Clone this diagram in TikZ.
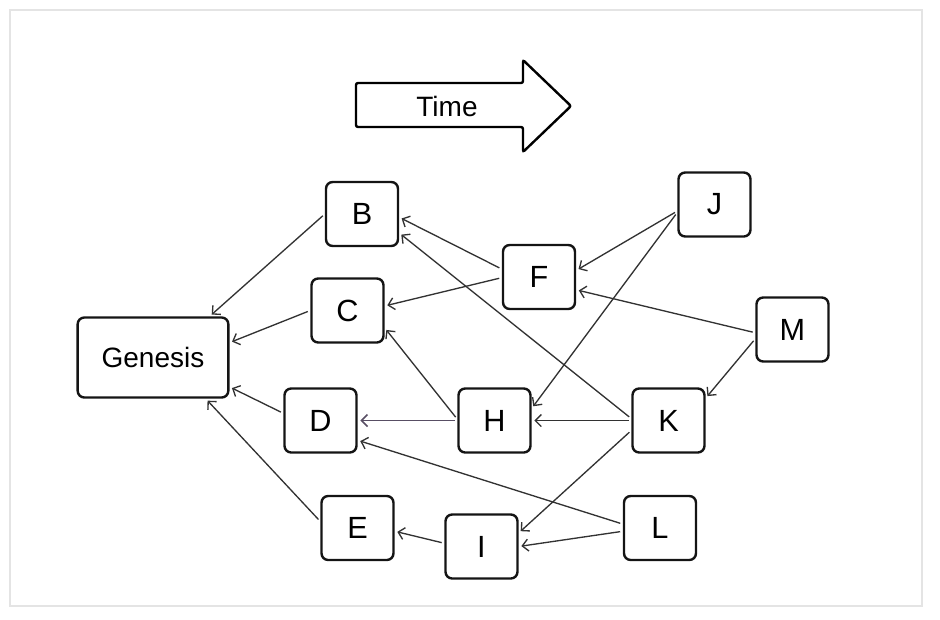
\documentclass[tikz,border=0pt]{standalone}
\usepackage{fontspec}
\setmainfont{Liberation Sans}
\usetikzlibrary{arrows.meta}
\definecolor{edgecol}{RGB}{50,50,50}
\definecolor{purpedge}{RGB}{88,78,100}
\definecolor{framecol}{RGB}{228,228,228}
\begin{document}
\begin{tikzpicture}[x=0.75pt,y=-0.75pt,
  box/.style={draw=black!92,line width=1.8pt,rounded corners=5pt,fill=white,
    minimum width=54pt,minimum height=48pt,inner sep=0pt,font=\fontsize{23}{26}\selectfont},
  gbox/.style={box,minimum width=113pt,minimum height=60pt,font=\fontsize{21}{24}\selectfont},
  link/.style={draw=edgecol,line width=1pt,-{Straight Barb[length=4.5pt,width=9pt]},
    shorten >=2pt,shorten <=2pt}]
\useasboundingbox (0,0) rectangle (940,619);
\draw[framecol,line width=0.8pt] (10,10) rectangle (922,606);
% time arrow
\draw[line width=1.8pt,rounded corners=1.5pt,fill=white]
  (356,83) -- (523,83) -- (523,60) -- (571,106) -- (523,152) -- (523,127) -- (356,127) -- cycle;
\node[font=\fontsize{21}{24}\selectfont] (time) at (447,106) {Time};
% nodes
\node[gbox] (G) at (153,357.5) {Genesis};
\node[box] (B) at (362,214) {B};
\node[box] (C) at (347.5,310.5) {C};
\node[box] (D) at (320.5,420.5) {D};
\node[box] (E) at (357.5,528) {E};
\node[box] (F) at (539,277) {F};
\node[box] (H) at (494.5,420.5) {H};
\node[box] (I) at (481.5,546.5) {I};
\node[box] (J) at (714.5,204.5) {J};
\node[box] (K) at (668.5,420.5) {K};
\node[box] (L) at (660,528) {L};
\node[box] (M) at (792.5,329.5) {M};
% edges
\draw[link] (B.west) -- (G.36);
\draw[link] (C.west) -- (G.11);
\draw[link] (D.169) -- (G.-21);
\draw[link] (E.170) -- (G.-38);
\draw[link] (F.168) -- (B.-5);
\draw[link] (F.181) -- (C.7);
\draw[link] (K.177) -- (B.-27);
\draw[link] (H.178) -- (C.-25);
\draw[link,draw=purpedge,line width=1.2pt] (H.west) -- (D.east);
\draw[link] (K.west) -- (H.east);
\draw[link] (L.174) -- (D.-28);
\draw[link] (K.195) -- (I.20);
\draw[link] (L.185) -- (I.east);
\draw[link] (I.175) -- (E.-5);
\draw[link] (J.190) -- (F.10);
\draw[link] (J.192) -- (H.18);
\draw[link] (M.185) -- (F.-19);
\draw[link] (M.194) -- (K.31);
\end{tikzpicture}
\end{document}
